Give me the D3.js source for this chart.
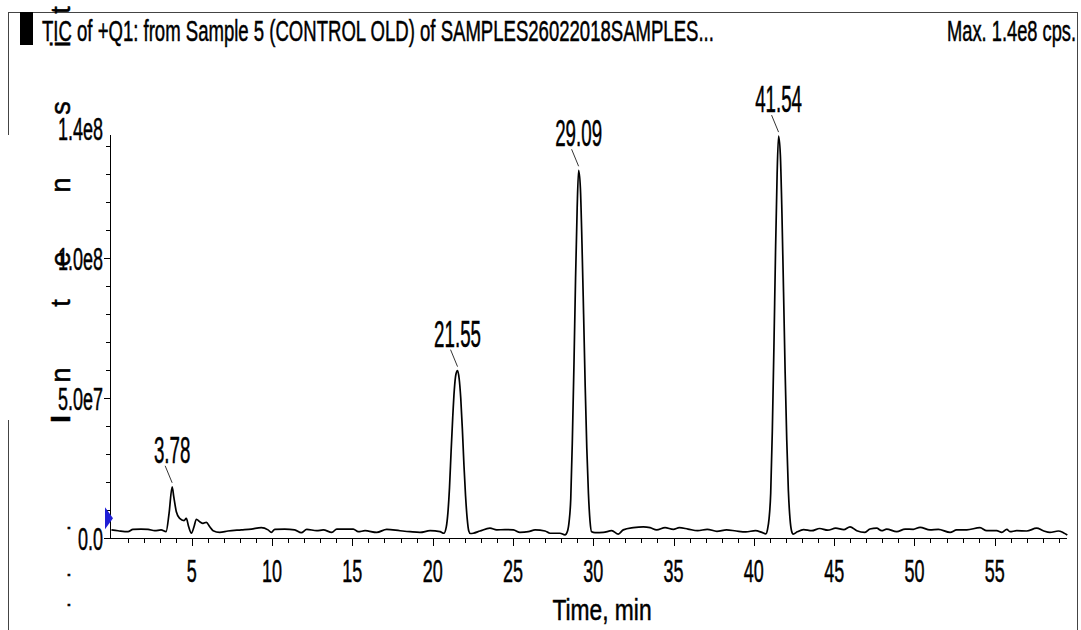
<!doctype html>
<html lang="en">
<head>
<meta charset="utf-8" />
<style>
  body { margin: 0; background: #fff; }
  svg text { font-family: "Liberation Sans", Arial, sans-serif; fill: #000; stroke: #000; stroke-width: 0.5px; }
  .trace { fill: none; stroke: #000; stroke-width: 1.7px; stroke-linejoin: round; }
  .frame { stroke: #444; stroke-width: 1px; }
  .axis-line, .tick-mark { stroke: #000; stroke-width: 1px; }
</style>
</head>
<body>
<div id="chart"></div>
<script src="https://cdn.jsdelivr.net/npm/d3@7"></script>
<script>
  // retention time (min)
  var times = [0.00, 0.41, 1.03, 1.34, 1.84, 2.28, 2.70, 3.09, 3.40, 3.59, 3.78, 3.88, 4.04, 4.25, 4.52, 4.66, 4.81, 4.98,
    5.14, 5.29, 5.50, 5.70, 5.91, 6.12, 6.33, 6.74, 7.26, 8.09, 8.71, 9.33, 9.75, 9.96, 10.17, 10.79, 11.41, 11.82,
    12.16, 12.78, 13.19, 13.72, 14.03, 15.06, 15.37, 15.79, 16.52, 17.14, 17.97, 18.59, 19.21, 19.84, 20.46, 20.70,
    20.85, 20.95, 21.05, 21.15, 21.25, 21.35, 21.45, 21.55, 21.65, 21.75, 21.85, 21.95, 22.05, 22.15, 22.25, 22.35,
    22.53, 22.95, 23.57, 23.99, 24.50, 25.03, 25.44, 25.96, 26.38, 27.00, 27.31, 27.93, 28.24, 28.40, 28.50, 28.60,
    28.70, 28.80, 28.90, 29.00, 29.09, 29.20, 29.30, 29.40, 29.50, 29.60, 29.70, 29.80, 29.90, 30.11, 30.63, 31.15,
    31.56, 31.87, 32.50, 33.12, 33.54, 33.95, 34.47, 34.99, 35.36, 35.90, 36.50, 37.10, 37.70, 38.30, 38.90, 39.50,
    40.10, 40.50, 40.75, 40.85, 40.95, 41.05, 41.15, 41.25, 41.35, 41.45, 41.54, 41.65, 41.75, 41.85, 41.95, 42.05,
    42.15, 42.25, 42.35, 42.45, 42.70, 43.10, 43.60, 44.10, 44.60, 45.10, 45.60, 45.99, 46.41, 46.92, 47.23, 47.65,
    47.96, 48.27, 48.90, 49.42, 49.93, 50.35, 50.97, 51.49, 52.22, 52.63, 53.26, 54.08, 54.50, 55.12, 55.44, 55.75,
    55.95, 56.37, 56.99, 57.61, 58.02, 58.44, 58.96, 59.27, 59.52];

  // intensity, in millions of cps
  var intensity = [2.9, 2.6, 2.25, 3.1, 3.2, 3.1, 2.6, 2.9, 2.25, 8.9, 18.3, 14.75, 9.4, 7.0, 6.2, 7.0, 4.0, 1.7,
    4.0, 6.7, 5.8, 5.25, 5.6, 4.0, 2.6, 2.0, 2.5, 2.9, 3.2, 3.7, 2.9, 2.0, 3.1, 3.2, 2.9, 1.9,
    3.1, 2.6, 2.9, 2.0, 3.2, 3.2, 2.25, 2.6, 2.0, 3.1, 2.6, 2.25, 2.0, 2.6, 2.25, 1.7,
    4, 9, 18, 31, 43, 53, 58.5, 59.8, 57, 50, 39, 26, 15, 7, 2.5, 1.6,
    1.7, 2.5, 3.5, 2.9, 3.0, 2.9, 2.0, 2.25, 2.9, 2.5, 1.7, 1.7, 1.1, 2.5, 6, 14,
    35, 62, 93, 118, 131.4, 125, 105, 80, 54, 32, 16, 6, 2.2, 1.9, 2.0, 2.6,
    1.4, 2.9, 3.7, 4.0, 3.7, 2.9, 3.7, 3.1, 3.7, 3.2, 2.6, 3.1, 2.4, 2.9, 2.5, 2.2,
    2.6, 2.0, 1.5, 3, 7, 16, 38, 68, 102, 130, 143.6, 137, 116, 88, 59, 35,
    17, 7, 2.5, 1.4, 2.2, 3.0, 2.6, 3.4, 2.8, 3.5, 3.0, 4.0, 2.6, 2.0, 3.2, 3.5,
    2.6, 3.2, 2.25, 3.2, 3.1, 3.8, 2.9, 3.1, 2.0, 2.9, 2.9, 3.7, 2.6, 2.6, 2.0, 3.1,
    2.25, 2.6, 2.5, 3.5, 2.6, 2.0, 2.5, 1.9, 1.1];

  var peakTimes = [3.78, 21.55, 29.09, 41.54];
  var peakLabels = ["3.78", "21.55", "29.09", "41.54"];

  var xMajorTicks = [5, 10, 15, 20, 25, 30, 35, 40, 45, 50, 55];
  var yMajorTicks = [0, 50, 100, 140];
  var yTickLabels = ["0.0", "5.0e7", "1.0e8", "1.4e8"];
  var markerLevel = 7.1; // blue threshold marker, millions of cps

  var titleText = "TIC of +Q1: from Sample 5 (CONTROL OLD) of SAMPLES26022018SAMPLES...";
  var maxText = "Max. 1.4e8 cps.";
  var xTitle = "Time, min";
  var yTitleChars = ["I", "n", "t", "e", "n", "s", "i", "t"];
  var yTitleY = [419, 375, 303, 259, 185, 108, 44, 10];

  var width = 1081,
      height = 630;

  var svg = d3.select("#chart").append("svg")
      .attr("width", width)
      .attr("height", height);

  var x = d3.scaleLinear().domain([-0.09, 59.5]).range([110, 1067]);
  var y = d3.scaleLinear().domain([0, 144]).range([538, 135]);

  // squeezed narrow text like the instrument software
  function label(g, txt, px, py, size, sx, anchor) {
    return g.append("text")
      .attr("transform", "translate(" + px + "," + py + ") scale(" + sx + ",1)")
      .attr("text-anchor", anchor)
      .style("font-size", size + "px")
      .text(txt);
  }

  // frame
  var frame = svg.append("g");
  frame.append("line").attr("class", "frame").attr("x1", 8).attr("y1", 12.5).attr("x2", 1078).attr("y2", 12.5);
  frame.append("line").attr("class", "frame").attr("x1", 1077.5).attr("y1", 12).attr("x2", 1077.5).attr("y2", 630);
  frame.append("line").attr("class", "frame").attr("x1", 8.5).attr("y1", 12).attr("x2", 8.5).attr("y2", 135);
  frame.append("line").attr("class", "frame").attr("x1", 8.5).attr("y1", 420).attr("x2", 8.5).attr("y2", 630);
  frame.append("rect").attr("x", 20).attr("y", 12).attr("width", 13).attr("height", 33).attr("fill", "#000");

  label(svg, titleText, 42, 41, 29, 0.64, "start");
  label(svg, maxText, 1076, 41, 29, 0.63, "end");

  // y axis
  var yAxis = svg.append("g");
  yAxis.append("line").attr("class", "axis-line")
    .attr("x1", 110.5).attr("x2", 110.5).attr("y1", y(144)).attr("y2", y(0));
  yAxis.selectAll("line.tick-mark")
    .data(d3.range(0, 141, 10))
    .enter().append("line")
    .attr("class", "tick-mark")
    .attr("x1", function(d) { return (d % 50 === 0) ? 104 : 106; })
    .attr("x2", 110)
    .attr("y1", function(d) { return Math.round(y(d)) + 0.5; })
    .attr("y2", function(d) { return Math.round(y(d)) + 0.5; });
  yMajorTicks.forEach(function(v, i) {
    var off = (v === 140) ? -6 : 12;
    label(yAxis, yTickLabels[i], 103, y(v) + off, 31, 0.58, "end");
  });

  // x axis
  var xAxis = svg.append("g");
  xAxis.append("line").attr("class", "axis-line")
    .attr("x1", 110).attr("x2", 1067).attr("y1", 538.5).attr("y2", 538.5);
  xAxis.selectAll("line.tick-mark")
    .data(d3.range(1, 60))
    .enter().append("line")
    .attr("class", "tick-mark")
    .attr("x1", function(d) { return Math.round(x(d)) + 0.5; })
    .attr("x2", function(d) { return Math.round(x(d)) + 0.5; })
    .attr("y1", 538)
    .attr("y2", function(d) { return (d % 5 === 0) ? 546 : 543; });
  xMajorTicks.forEach(function(v) {
    label(xAxis, String(v), x(v), 582, 31, 0.58, "middle");
  });
  label(svg, xTitle, 602, 620, 30, 0.76, "middle");

  // rotated, scattered y title
  var yTitle = svg.append("g");
  yTitleChars.forEach(function(c, i) {
    yTitle.append("text")
      .attr("transform", "translate(70," + yTitleY[i] + ") rotate(-90)")
      .attr("text-anchor", "middle")
      .style("font-size", "27px")
      .style("font-weight", c === "I" ? "bold" : "normal")
      .text(c);
  });
  [528, 575, 605].forEach(function(py) {
    yTitle.append("text")
      .attr("transform", "translate(70," + py + ") rotate(-90)")
      .attr("text-anchor", "middle")
      .style("font-size", "20px")
      .text(".");
  });

  // trace
  var points = times.map(function(t, i) { return [t, intensity[i]]; });
  var line = d3.line()
    .x(function(d) { return x(d[0]); })
    .y(function(d) { return y(d[1]); })
    .curve(d3.curveMonotoneX);
  svg.append("path").attr("class", "trace").attr("d", line(points));

  // blue marker on y axis
  var my = y(markerLevel);
  svg.append("path")
    .attr("d", "M105," + (my - 11) + "L113," + my + "L105," + (my + 11) + "Z")
    .attr("fill", "#1f1fd6");

  // peak labels with leader lines
  var peaks = svg.append("g");
  peakTimes.forEach(function(t, i) {
    var idx = d3.minIndex(times, function(v) { return Math.abs(v - t); });
    var px = x(t), py = y(intensity[idx]);
    peaks.append("line")
      .attr("x1", px - 7).attr("y1", py - 21)
      .attr("x2", px).attr("y2", py - 4)
      .attr("stroke", "#000").attr("stroke-width", 0.8);
    label(peaks, peakLabels[i], px, py - 24, 36, 0.52, "middle");
  });
</script>
</body>
</html>
